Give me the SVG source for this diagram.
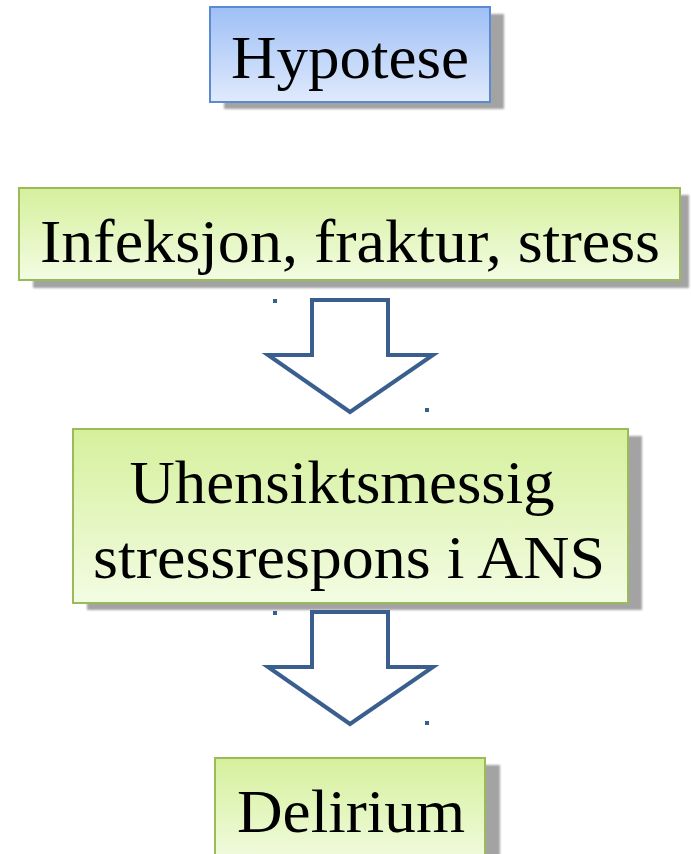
<svg xmlns="http://www.w3.org/2000/svg" width="691" height="854" viewBox="0 0 691 854">
<defs>
<linearGradient id="gBlue" x1="0" y1="0" x2="0" y2="1">
<stop offset="0" stop-color="#9EBFF6"/>
<stop offset="1" stop-color="#E0EAFC"/>
</linearGradient>
<linearGradient id="gGreen" x1="0" y1="0" x2="0" y2="1">
<stop offset="0" stop-color="#D5F09C"/>
<stop offset="1" stop-color="#F3FCE3"/>
</linearGradient>
<filter id="blur" x="-5%" y="-5%" width="110%" height="110%"><feGaussianBlur stdDeviation="1"/></filter>
</defs>
<style>
.shadow{fill:#A3A3A3;filter:url(#blur)}
.blue{fill:url(#gBlue);stroke:#5B8AD0;stroke-width:2}
.green{fill:url(#gGreen);stroke:#9BBB59;stroke-width:2}
.label{font-family:"Liberation Serif","Times New Roman",serif;font-size:62px;fill:#000;text-anchor:middle}
.arrow{fill:#FFFFFF;stroke:#3A5F8F;stroke-width:4;stroke-linejoin:miter}
.dot{fill:#3A5F8F}
</style>
<rect width="691" height="854" fill="#FFFFFF"/>
<g id="node-hypotese">
<rect class="shadow" x="224" y="14" width="280" height="95"/>
<rect class="blue" x="210" y="7" width="280" height="95"/>
<text class="label" x="350" y="78" font-size="60" textLength="238" lengthAdjust="spacingAndGlyphs">Hypotese</text>
</g>
<g id="node-infeksjon">
<rect class="shadow" x="33" y="195" width="656" height="93"/>
<rect class="green" x="19" y="188" width="661" height="92"/>
<text class="label" x="350" y="262" textLength="620" lengthAdjust="spacingAndGlyphs">Infeksjon, fraktur, stress</text>
</g>
<g id="node-uhensiktsmessig">
<rect class="shadow" x="87" y="436" width="555" height="174"/>
<rect class="green" x="73" y="429" width="555" height="174"/>
<text class="label" x="342" y="503" textLength="425" lengthAdjust="spacingAndGlyphs">Uhensiktsmessig</text>
<text class="label" x="349" y="578" textLength="512" lengthAdjust="spacingAndGlyphs">stressrespons i ANS</text>
</g>
<g id="node-delirium">
<rect class="shadow" x="229" y="765" width="271" height="100"/>
<rect class="green" x="215" y="758" width="270" height="110"/>
<text class="label" x="351" y="832" textLength="228" lengthAdjust="spacingAndGlyphs">Delirium</text>
</g>
<g id="connectors">
<path class="arrow" d="M312,300 H388 V355 H433 L350,412 L268,355 H312 Z"/>
<rect class="dot" x="273" y="299" width="4" height="4"/>
<rect class="dot" x="425" y="408" width="4" height="4"/>
<path class="arrow" d="M312,612 H388 V667 H433 L350,724 L268,667 H312 Z"/>
<rect class="dot" x="273" y="611" width="4" height="4"/>
<rect class="dot" x="425" y="721" width="4" height="4"/>
</g>
</svg>
